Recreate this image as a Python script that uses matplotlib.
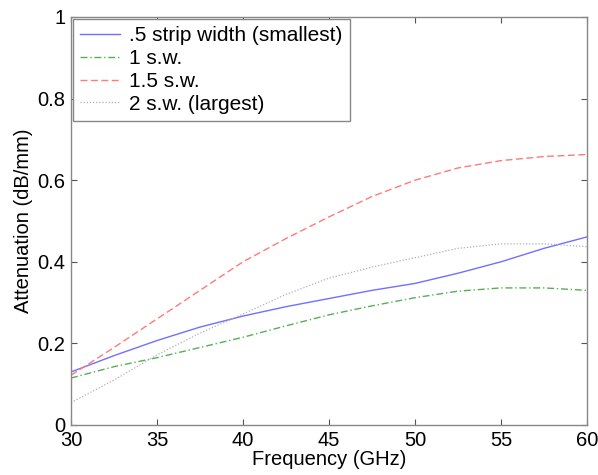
import matplotlib
matplotlib.use('Agg')
import matplotlib.pyplot as plt

freq = [30, 32.5, 35, 37.5, 40, 42.5, 45, 47.5, 50, 52.5, 55, 57.5, 60]
sw_05 = [0.13, 0.17, 0.207, 0.24, 0.267, 0.29, 0.31, 0.33, 0.347, 0.372, 0.40, 0.433, 0.461]
sw_1 = [0.115, 0.143, 0.165, 0.19, 0.215, 0.243, 0.27, 0.292, 0.312, 0.328, 0.336, 0.336, 0.33]
sw_15 = [0.122, 0.19, 0.26, 0.33, 0.40, 0.457, 0.51, 0.56, 0.60, 0.63, 0.648, 0.658, 0.663]
sw_2 = [0.055, 0.11, 0.172, 0.225, 0.272, 0.32, 0.36, 0.387, 0.41, 0.433, 0.444, 0.444, 0.437]
labels = ['.5 strip width (smallest)', '1 s.w.', '1.5 s.w.', '2 s.w. (largest)']

plt.rcParams['font.family'] = ['Liberation Sans', 'DejaVu Sans']
plt.rcParams['font.size'] = 14.5

fig = plt.figure(figsize=(5.98, 4.75), dpi=100)
ax = fig.add_axes([71/598, 50/475, 516/598, 408/475])
ax.plot(freq, sw_05, color='#7070ff', lw=1.0, ls='-', label=labels[0])
ax.plot(freq, sw_1, color='#55b055', lw=1.0, ls=(0, (5, 2, 1, 2)), label=labels[1])
ax.plot(freq, sw_15, color='#ff7a7a', lw=1.0, ls=(0, (5, 2.5)), label=labels[2])
ax.plot(freq, sw_2, color='#b0b0b0', lw=0.9, ls=(0, (1, 1.5)), label=labels[3])

ax.set_xlim(30, 60)
ax.set_ylim(0, 1)
ax.set_xticks([30, 35, 40, 45, 50, 55, 60])
ax.set_yticks([0, 0.2, 0.4, 0.6, 0.8, 1])
ax.set_yticklabels(['0', '0.2', '0.4', '0.6', '0.8', '1'])
ax.tick_params(direction='in', top=True, right=True, length=4, color='#555555', pad=4)
for s in ax.spines.values():
    s.set_color('#888888')
    s.set_linewidth(1.0)
ax.set_xlabel('Frequency (GHz)', labelpad=0)
ax.set_ylabel('Attenuation (dB/mm)', labelpad=3)

leg = ax.legend(loc='upper left', bbox_to_anchor=(0.0, 1.0), fancybox=False, fontsize=15,
                framealpha=1, edgecolor='#888888', borderpad=0.35, labelspacing=0.18,
                handlelength=1.9, handletextpad=0.45, borderaxespad=0.1)
leg.get_frame().set_linewidth(1.0)

fig.savefig('out.png', dpi=100)
